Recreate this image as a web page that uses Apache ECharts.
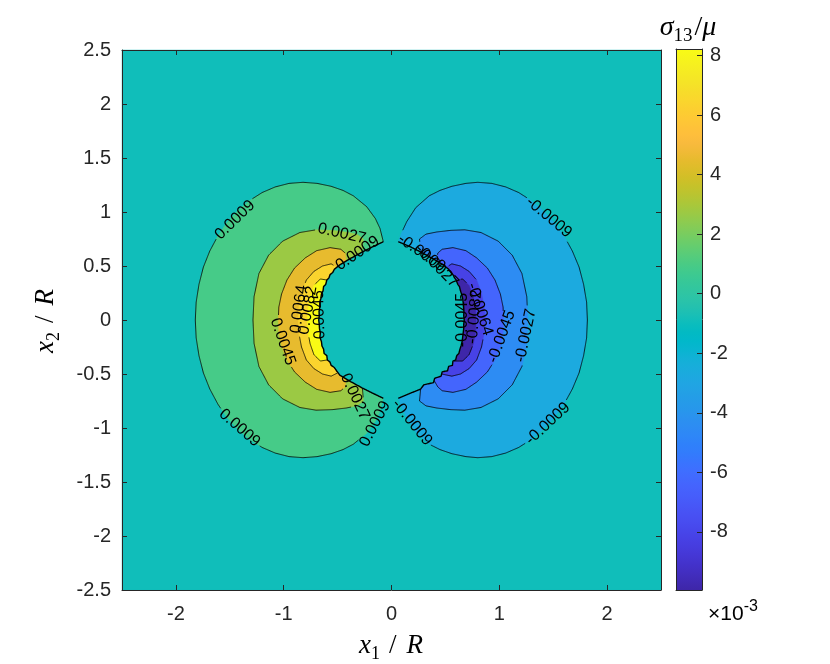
<!DOCTYPE html>
<html><head><meta charset="utf-8">
<script src="https://cdn.jsdelivr.net/npm/echarts@6.0.0/dist/echarts.min.js"></script>
<style>html,body{margin:0;padding:0;background:#fff;}#chart{width:830px;height:664px;}</style>
</head><body><div id="chart"></div>
<script>
// ================= DATA =================
const xTicks = [-2, -1, 0, 1, 2];
const cbTicks = [-8, -6, -4, -2, 0, 2, 4, 6, 8];          // colorbar labels, x10^-3
const cRange = [-0.00995, 0.00822];                        // colour limits of sigma13/mu
const levelsPos = [0.0009, 0.0027, 0.0045, 0.0064, 0.0082];
const levelsNeg = [-0.0009, -0.0027, -0.0045, -0.0064, -0.0082];
const plotBox = [[-2.5, -2.5], [2.5, -2.5], [2.5, 2.5], [-2.5, 2.5]];

// contour lines, left lobe (positive values)
const leftC1 = [[-0.076,0.725],[-0.107,0.849],[-0.15,0.94],[-0.23,1.049],[-0.354,1.15],[-0.45,1.2],[-0.56,1.238],[-0.69,1.265],[-0.82,1.275],[-0.95,1.265],[-1.079,1.232],[-1.2,1.18],[-1.32,1.104],[-1.43,1.01],[-1.527,0.902],[-1.61,0.78],[-1.686,0.638],[-1.745,0.49],[-1.786,0.33],[-1.812,0.165],[-1.82,0],
  [-1.812,-0.165],[-1.786,-0.33],[-1.745,-0.49],[-1.686,-0.638],[-1.61,-0.78],[-1.527,-0.902],[-1.43,-1.01],[-1.32,-1.104],[-1.2,-1.18],[-1.079,-1.232],[-0.95,-1.265],[-0.82,-1.275],[-0.69,-1.265],[-0.56,-1.238],[-0.45,-1.2],[-0.354,-1.15],[-0.23,-1.049],[-0.15,-0.94],[-0.107,-0.849],[-0.076,-0.725]];
const leftC2 = [[-0.27,0.63],[-0.26,0.75],[-0.32,0.795],[-0.42,0.815],[-0.55,0.83],[-0.7,0.835],[-0.85,0.81],[-1.01,0.73],[-1.14,0.6],[-1.23,0.43],[-1.275,0.216],[-1.285,0],
  [-1.275,-0.216],[-1.23,-0.43],[-1.14,-0.6],[-1.01,-0.73],[-0.85,-0.81],[-0.7,-0.835],[-0.55,-0.83],[-0.42,-0.815],[-0.32,-0.795],[-0.26,-0.75],[-0.27,-0.63]];
const leftC3 = [[-0.42,0.546],[-0.43,0.62],[-0.47,0.655],[-0.57,0.67],[-0.694,0.642],[-0.8,0.575],[-0.9,0.48],[-0.97,0.37],[-1.02,0.24],[-1.045,0.12],[-1.05,0],
  [-1.045,-0.12],[-1.02,-0.24],[-0.97,-0.37],[-0.9,-0.48],[-0.8,-0.575],[-0.694,-0.642],[-0.57,-0.67],[-0.47,-0.655],[-0.43,-0.62],[-0.42,-0.546]];
const leftC4 = [[-0.51,0.49],[-0.56,0.52],[-0.64,0.5],[-0.72,0.45],[-0.79,0.37],[-0.835,0.25],[-0.86,0.12],[-0.865,0],
  [-0.86,-0.12],[-0.835,-0.25],[-0.79,-0.37],[-0.72,-0.45],[-0.64,-0.5],[-0.56,-0.52],[-0.5,-0.49]];
const leftC5 = [[-0.6,0.37],[-0.66,0.38],[-0.72,0.32],[-0.755,0.22],[-0.775,0.11],[-0.78,0],
  [-0.775,-0.11],[-0.755,-0.22],[-0.72,-0.32],[-0.66,-0.38],[-0.595,-0.37]];

// contour lines, right lobe (negative values)
const rightC1 = [[0.063,0.725],[0.09,0.8],[0.141,0.91],[0.225,1.04],[0.35,1.15],[0.45,1.2],[0.56,1.238],[0.69,1.265],[0.8,1.275],[0.93,1.265],[1.06,1.232],[1.18,1.18],[1.3,1.104],[1.41,1.01],[1.51,0.902],[1.6,0.78],[1.678,0.638],[1.74,0.49],[1.782,0.33],[1.81,0.165],[1.817,0],
  [1.81,-0.165],[1.782,-0.33],[1.74,-0.49],[1.678,-0.638],[1.6,-0.78],[1.51,-0.902],[1.41,-1.01],[1.3,-1.104],[1.18,-1.18],[1.06,-1.232],[0.93,-1.265],[0.8,-1.275],[0.69,-1.265],[0.56,-1.238],[0.45,-1.2],[0.35,-1.15],[0.225,-1.04],[0.141,-0.91],[0.09,-0.8],[0.063,-0.725]];
const rightC2 = [[0.27,0.63],[0.26,0.75],[0.32,0.795],[0.42,0.815],[0.55,0.83],[0.68,0.835],[0.83,0.81],[0.99,0.73],[1.12,0.6],[1.21,0.43],[1.255,0.216],[1.265,0],
  [1.255,-0.216],[1.21,-0.43],[1.12,-0.6],[0.99,-0.73],[0.83,-0.81],[0.68,-0.835],[0.55,-0.83],[0.42,-0.815],[0.32,-0.795],[0.26,-0.75],[0.27,-0.64]];
const rightC3 = [[0.42,0.546],[0.43,0.62],[0.47,0.655],[0.57,0.67],[0.69,0.642],[0.79,0.575],[0.89,0.48],[0.96,0.37],[1.01,0.24],[1.035,0.12],[1.04,0],
  [1.035,-0.12],[1.01,-0.24],[0.96,-0.37],[0.89,-0.48],[0.79,-0.575],[0.69,-0.642],[0.57,-0.67],[0.47,-0.655],[0.43,-0.62],[0.395,-0.56]];
const rightC4 = [[0.51,0.49],[0.56,0.52],[0.64,0.5],[0.72,0.45],[0.79,0.37],[0.835,0.25],[0.86,0.12],[0.87,0],
  [0.86,-0.12],[0.835,-0.25],[0.79,-0.37],[0.72,-0.45],[0.64,-0.5],[0.56,-0.52],[0.465,-0.5]];
const rightC5 = [[0.6,0.37],[0.66,0.38],[0.72,0.32],[0.76,0.22],[0.78,0.11],[0.785,0],
  [0.78,-0.11],[0.76,-0.22],[0.72,-0.32],[0.66,-0.38],[0.58,-0.38]];

// boundary of the central (inclusion) region, where all contours pile up
const holeLeft = [[-0.076,0.725],[-0.17,0.68],[-0.27,0.63],[-0.38,0.57],[-0.48,0.51],[-0.53,0.47],[-0.545,0.44],[-0.57,0.42],[-0.58,0.39],[-0.6,0.37],[-0.61,0.33],[-0.63,0.31],[-0.635,0.27],[-0.65,0.24],[-0.655,0.2],[-0.665,0.16],[-0.665,0.12],[-0.672,0.08],[-0.67,0.04],[-0.675,0],[-0.67,-0.04],[-0.668,-0.08],[-0.66,-0.12],[-0.664,-0.16],[-0.65,-0.2],[-0.645,-0.24],[-0.63,-0.27],[-0.625,-0.31],[-0.6,-0.33],[-0.595,-0.37],[-0.57,-0.39],[-0.56,-0.42],[-0.53,-0.44],[-0.51,-0.47],[-0.48,-0.51],[-0.38,-0.57],[-0.27,-0.63],[-0.17,-0.68],[-0.076,-0.725]];
const holeRight = [[0.063,0.725],[0.17,0.68],[0.27,0.63],[0.38,0.57],[0.48,0.51],[0.53,0.47],[0.55,0.44],[0.57,0.42],[0.585,0.39],[0.6,0.37],[0.615,0.33],[0.63,0.31],[0.64,0.27],[0.65,0.24],[0.66,0.2],[0.665,0.16],[0.668,0.12],[0.672,0.08],[0.67,0.04],[0.675,0],[0.67,-0.04],[0.67,-0.08],[0.665,-0.12],[0.66,-0.16],[0.655,-0.2],[0.645,-0.24],[0.635,-0.27],[0.625,-0.31],[0.605,-0.33],[0.595,-0.37],[0.57,-0.38],[0.565,-0.42],[0.53,-0.43],[0.52,-0.47],[0.47,-0.48],[0.46,-0.52],[0.4,-0.54],[0.39,-0.58],[0.3,-0.6],[0.27,-0.64],[0.17,-0.68],[0.063,-0.725]];

// contour labels: [text, x, y, angle in degrees]
const contourLabels = [
  ['0.0009', -1.452, 0.926, 44], ['0.0009', -1.41, -1.0, -41], ['0.0027', -0.46, 0.80, -13],
  ['0.0009', -0.315, 0.617, 34], ['0.0064', -0.858, 0.10, 82], ['0.0082', -0.775, 0.09, 80],
  ['0.0045', -0.67, 0.05, 92], ['0.0045', -1.009, -0.201, -71], ['0.0027', -0.34, -0.71, -65],
  ['0.0009', -0.153, -0.963, 62],
  ['-0.0009', 1.46, 0.95, -40], ['-0.0009', 1.45, -0.96, 43], ['-0.0009', 0.19, -0.95, -51],
  ['-0.0027', 1.245, -0.145, 78], ['-0.0045', 1.022, -0.154, 70], ['-0.0009', 0.28, 0.62, -35],
  ['-0.0027', 0.42, 0.50, -45], ['-0.0064', 0.82, 0.10, -72], ['-0.0082', 0.77, 0.03, 85],
  ['-0.0045', 0.66, 0.0, 90]
];

// ================= colour map (MATLAB parula, 64 entries) =================
const parula = [[0.2422,0.1504,0.6603],[0.2504,0.1650,0.7076],[0.2578,0.1818,0.7511],[0.2647,0.1978,0.7952],[0.2706,0.2147,0.8364],[0.2751,0.2342,0.8710],[0.2783,0.2559,0.8991],[0.2803,0.2782,0.9221],[0.2813,0.3006,0.9414],[0.2810,0.3228,0.9579],[0.2795,0.3447,0.9717],[0.2760,0.3667,0.9829],[0.2699,0.3892,0.9906],[0.2602,0.4123,0.9952],[0.2440,0.4358,0.9988],[0.2206,0.4603,0.9973],[0.1963,0.4847,0.9892],[0.1834,0.5074,0.9798],[0.1786,0.5289,0.9682],[0.1764,0.5499,0.9520],[0.1687,0.5703,0.9359],[0.1540,0.5902,0.9218],[0.1460,0.6091,0.9079],[0.1380,0.6276,0.8973],[0.1248,0.6459,0.8883],[0.1113,0.6635,0.8763],[0.0952,0.6798,0.8598],[0.0689,0.6948,0.8394],[0.0297,0.7082,0.8163],[0.0036,0.7203,0.7917],[0.0067,0.7312,0.7660],[0.0433,0.7411,0.7394],[0.0964,0.7500,0.7120],[0.1408,0.7584,0.6842],[0.1717,0.7670,0.6554],[0.1938,0.7758,0.6251],[0.2161,0.7843,0.5923],[0.2470,0.7918,0.5567],[0.2906,0.7973,0.5188],[0.3406,0.8008,0.4789],[0.3909,0.8029,0.4354],[0.4456,0.8024,0.3909],[0.5044,0.7993,0.3480],[0.5616,0.7942,0.3045],[0.6174,0.7876,0.2612],[0.6720,0.7793,0.2227],[0.7242,0.7698,0.1910],[0.7738,0.7598,0.1646],[0.8203,0.7498,0.1535],[0.8634,0.7406,0.1596],[0.9035,0.7330,0.1774],[0.9393,0.7288,0.2100],[0.9728,0.7298,0.2394],[0.9956,0.7434,0.2371],[0.9970,0.7659,0.2199],[0.9952,0.7893,0.2028],[0.9892,0.8136,0.1885],[0.9786,0.8386,0.1766],[0.9676,0.8639,0.1643],[0.9610,0.8890,0.1537],[0.9597,0.9135,0.1423],[0.9628,0.9373,0.1265],[0.9691,0.9606,0.1064],[0.9769,0.9839,0.0805]];
function rgb(c){return 'rgb('+c.map(v=>Math.round(v*255)).join(',')+')';}
function parulaAt(t){
  t=Math.max(0,Math.min(1,t)); const f=t*63; const i=Math.min(62,Math.floor(f)); const w=f-i;
  return rgb([0,1,2].map(k=>parula[i][k]*(1-w)+parula[i+1][k]*w));
}
function colorOf(v){return parulaAt((v-cRange[0])/(cRange[1]-cRange[0]));}

// ================= build drawing tables =================
const holePoly = holeLeft.concat(holeRight.slice().reverse());
const fillRegions = [
  {pts: plotBox, v: levelsNeg[0]},
  {pts: leftC1, v: levelsPos[0]}, {pts: leftC2, v: levelsPos[1]}, {pts: leftC3, v: levelsPos[2]},
  {pts: leftC4, v: levelsPos[3]}, {pts: leftC5, v: levelsPos[4]},
  {pts: rightC1, v: levelsNeg[1]}, {pts: rightC2, v: levelsNeg[2]}, {pts: rightC3, v: levelsNeg[3]},
  {pts: rightC4, v: levelsNeg[4]}, {pts: rightC5, v: cRange[0]},
  {pts: holePoly, v: levelsNeg[0]}
];
const contourLines = [
  {pts: leftC1, gap: true, w: 0.8}, {pts: leftC2, gap: true, w: 0.8}, {pts: leftC3, gap: true, w: 0.8},
  {pts: leftC4, gap: true, w: 0.8}, {pts: leftC5, gap: true, w: 0.8},
  {pts: rightC1, gap: true, w: 0.8}, {pts: rightC2, gap: true, w: 0.8}, {pts: rightC3, gap: true, w: 0.8},
  {pts: rightC4, gap: true, w: 0.8}, {pts: rightC5, gap: true, w: 0.8},
  {pts: holeLeft, gap: false, w: 1.4}, {pts: holeRight, gap: false, w: 1.4}
];

const LABEL_FONT = 'Liberation Sans';
const LABEL_SIZE = 16;
const mctx = document.createElement('canvas').getContext('2d');
function textW(t, font){mctx.font = font; return mctx.measureText(t).width;}

function labelBoxes(api){
  return contourLabels.map(l=>{
    const th = l[3]*Math.PI/180;
    return {c: api.coord([l[1], l[2]]), cs: Math.cos(th), sn: Math.sin(th),
      hw: textW(l[0], LABEL_SIZE+'px "'+LABEL_FONT+'"')/2 + 2, hh: 7};
  });
}
function splitRuns(px, boxes){
  const runs=[]; let cur=[];
  const inside = p => boxes.some(b=>{
    const dx=p[0]-b.c[0], dy=p[1]-b.c[1];
    const u=dx*b.cs-dy*b.sn, v=dx*b.sn+dy*b.cs;
    return Math.abs(u)<b.hw && Math.abs(v)<b.hh;
  });
  for(let i=0;i<px.length-1;i++){
    const a=px[i], b=px[i+1];
    const n=Math.max(1, Math.ceil(Math.hypot(b[0]-a[0], b[1]-a[1])));
    for(let k=(i===0?0:1);k<=n;k++){
      const p=[a[0]+(b[0]-a[0])*k/n, a[1]+(b[1]-a[1])*k/n];
      if(inside(p)){ if(cur.length>1) runs.push(cur); cur=[]; } else cur.push(p);
    }
  }
  if(cur.length>1) runs.push(cur);
  return runs;
}

function mathGroup(pieces, cx, base, rot){
  let x=0; const ch=[];
  pieces.forEach(p=>{
    if(p.gap){x+=p.gap;return;}
    const fam = p.ff || 'Liberation Serif';
    const w = textW(p.t, (p.it?'italic ':'')+p.s+'px "'+fam+'"');
    ch.push({type:'text', x:x, y:(p.dy||0)-0.32*p.s, style:{text:p.t, fontSize:p.s, fontFamily:fam,
      fontStyle:p.it?'italic':'normal', fill:'#000', align:'left', verticalAlign:'middle'}});
    x+=w;
  });
  ch.forEach(c=>{c.x-=x/2;});
  return {type:'group', x:cx, y:base, rotation:rot||0, children:ch, z:20};
}

// ================= chart =================
const chart = echarts.init(document.getElementById('chart'));
const axisCol = '#262626';
const tickFont = {fontSize:20, fontFamily:'Liberation Sans', color:axisCol};
const cbStops = parula.map((c,i)=>({offset:i/63, color:rgb(c)}));

const option = {
  animation:false,
  backgroundColor:'#fff',
  grid:[{left:122, top:50, width:539, height:540}, {left:676, top:49, width:26, height:541}],
  xAxis:[
    {gridIndex:0, type:'value', min:-2.5, max:2.5, position:'bottom', z:10,
      axisLine:{show:true, onZero:false, lineStyle:{color:axisCol, width:1}},
      axisTick:{show:true, inside:true, length:5, customValues:xTicks, lineStyle:{color:axisCol}},
      axisLabel:Object.assign({show:true, margin:14, customValues:xTicks}, tickFont), splitLine:{show:false}},
    {gridIndex:0, type:'value', min:-2.5, max:2.5, position:'top', z:10,
      axisLine:{show:true, onZero:false, lineStyle:{color:axisCol, width:1}},
      axisTick:{show:true, inside:true, length:5, customValues:xTicks, lineStyle:{color:axisCol}},
      axisLabel:{show:false}, splitLine:{show:false}},
    {gridIndex:1, type:'value', min:0, max:1, position:'bottom', z:10,
      axisLine:{show:true, onZero:false, lineStyle:{color:axisCol, width:1}},
      axisTick:{show:false}, axisLabel:{show:false}, splitLine:{show:false}},
    {gridIndex:1, type:'value', min:0, max:1, position:'top', z:10,
      axisLine:{show:true, onZero:false, lineStyle:{color:axisCol, width:1}},
      axisTick:{show:false}, axisLabel:{show:false}, splitLine:{show:false}}
  ],
  yAxis:[
    {gridIndex:0, type:'value', min:-2.5, max:2.5, interval:0.5, position:'left', z:10,
      axisLine:{show:true, onZero:false, lineStyle:{color:axisCol, width:1}},
      axisTick:{show:true, inside:true, length:5, lineStyle:{color:axisCol}},
      axisLabel:Object.assign({show:true, margin:11}, tickFont), splitLine:{show:false}},
    {gridIndex:0, type:'value', min:-2.5, max:2.5, interval:0.5, position:'right', z:10,
      axisLine:{show:true, onZero:false, lineStyle:{color:axisCol, width:1}},
      axisTick:{show:true, inside:true, length:5, lineStyle:{color:axisCol}},
      axisLabel:{show:false}, splitLine:{show:false}},
    {gridIndex:1, type:'value', min:cRange[0], max:cRange[1], position:'right', z:10,
      axisLine:{show:true, onZero:false, lineStyle:{color:axisCol, width:1}},
      axisTick:{show:true, inside:true, length:5, customValues:cbTicks.map(v=>v/1000), lineStyle:{color:axisCol}},
      axisLabel:Object.assign({show:true, margin:8, customValues:cbTicks.map(v=>v/1000),
        formatter:v=>String(Math.round(v*1000))}, tickFont), splitLine:{show:false}},
    {gridIndex:1, type:'value', min:cRange[0], max:cRange[1], position:'left', z:10,
      axisLine:{show:true, onZero:false, lineStyle:{color:axisCol, width:1}},
      axisTick:{show:false}, axisLabel:{show:false}, splitLine:{show:false}}
  ],
  series:[
    {type:'custom', xAxisIndex:0, yAxisIndex:0, z:1, silent:true,
      data: fillRegions.map(()=>[0,0]),
      renderItem:(params, api)=>{
        const r = fillRegions[params.dataIndex];
        const col = colorOf(r.v);
        return {type:'polygon', shape:{points:r.pts.map(p=>api.coord(p))},
          style:{fill:col, stroke:col, lineWidth:0.4}};
      }},
    {type:'custom', xAxisIndex:0, yAxisIndex:0, z:2, silent:true,
      data: contourLines.map(()=>[0,0]),
      renderItem:(params, api)=>{
        const ln = contourLines[params.dataIndex];
        const px = ln.pts.map(p=>api.coord(p));
        const runs = splitRuns(px, ln.gap ? labelBoxes(api) : []);
        return {type:'group', children: runs.map(r=>({type:'polyline', shape:{points:r},
          style:{stroke:'#000', lineWidth:ln.w, fill:null, lineJoin:'round'}}))};
      }},
    {type:'custom', xAxisIndex:0, yAxisIndex:0, z:3, silent:true,
      data: contourLabels.map(()=>[0,0]),
      renderItem:(params, api)=>{
        const l = contourLabels[params.dataIndex];
        const c = api.coord([l[1], l[2]]);
        return {type:'text', x:c[0], y:c[1], rotation:l[3]*Math.PI/180,
          style:{text:l[0], fontSize:LABEL_SIZE, fontFamily:LABEL_FONT, fill:'#000', align:'center', verticalAlign:'middle'}};
      }},
    {type:'custom', xAxisIndex:2, yAxisIndex:2, z:1, silent:true,
      data:[[0.5, 0]],
      renderItem:(params, api)=>{
        const a = api.coord([0, cRange[1]]), b = api.coord([1, cRange[0]]);
        return {type:'rect', shape:{x:a[0], y:a[1], width:b[0]-a[0], height:b[1]-a[1]},
          style:{fill:new echarts.graphic.LinearGradient(0,1,0,0,cbStops)}};
      }}
  ],
  graphic:[
    mathGroup([{t:'x',it:1,s:27},{t:'1',s:18,dy:5},{gap:9},{t:'/',s:27},{gap:10},{t:'R',it:1,s:27}], 391, 655, 0),
    mathGroup([{t:'x',it:1,s:27},{t:'2',s:18,dy:5},{gap:9},{t:'/',s:27},{gap:10},{t:'R',it:1,s:27}], 55, 321, Math.PI/2),
    mathGroup([{t:'σ',it:1,s:28},{t:'13',s:19,dy:5},{gap:2},{t:'/',s:28},{t:'μ',it:1,s:28}], 688, 37, 0),
    mathGroup([{t:'×10',s:21,ff:'Liberation Sans'},{t:'-3',s:16,dy:-9,ff:'Liberation Sans'}], 733, 621, 0)
  ]
};
chart.setOption(option);
</script>
</body></html>
